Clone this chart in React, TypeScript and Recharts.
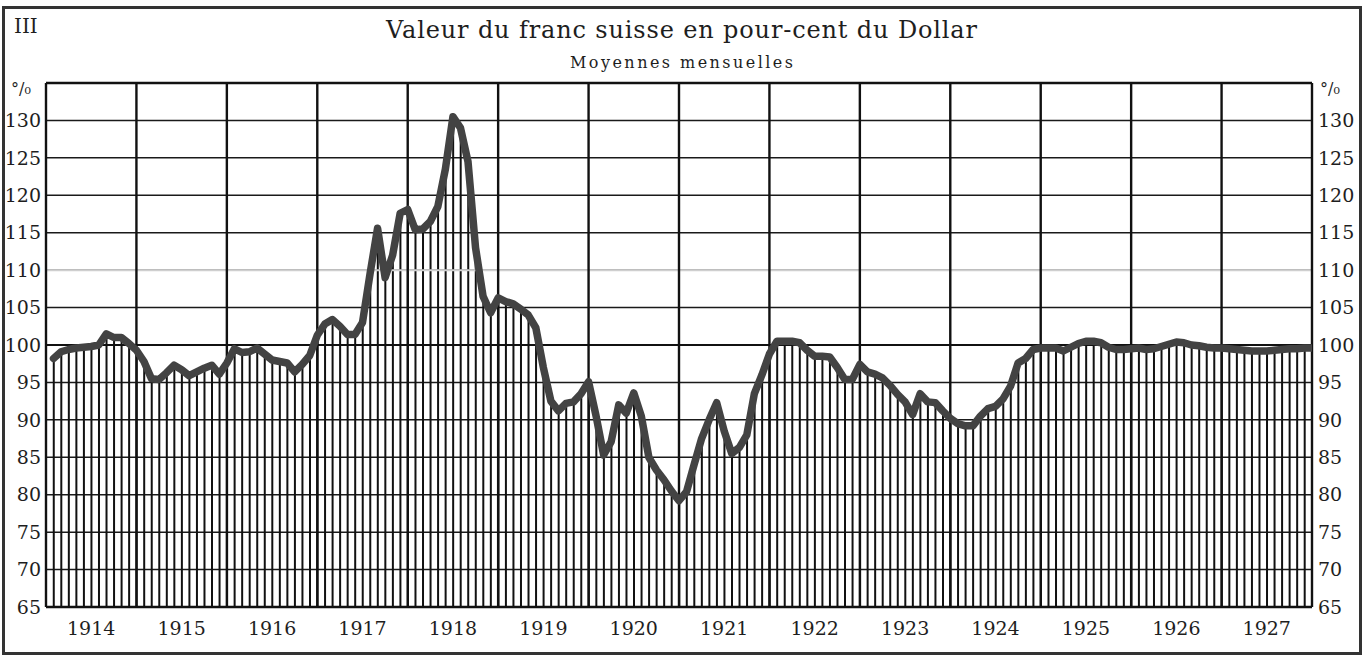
import React from 'react';
import { ComposedChart, Bar, Line, XAxis, YAxis, CartesianGrid, ReferenceLine } from 'recharts';

const years = [1914, 1915, 1916, 1917, 1918, 1919, 1920, 1921, 1922, 1923, 1924, 1925, 1926, 1927];

const v1914 = [98.2, 99.1, 99.4, 99.6, 99.7, 99.8, 100.0, 101.5, 101.0, 101.0, 100.2, 99.3];
const v1915 = [97.8, 95.5, 95.4, 96.3, 97.3, 96.7, 95.9, 96.4, 96.9, 97.3, 96.1, 97.6];
const v1916 = [99.5, 99.0, 99.1, 99.6, 98.8, 98.0, 97.8, 97.6, 96.4, 97.4, 98.6, 101.3];
const v1917 = [102.8, 103.4, 102.5, 101.4, 101.4, 103.0, 109.5, 115.6, 109.0, 112.0, 117.6, 118.1];
const v1918 = [115.4, 115.5, 116.5, 118.5, 123.5, 130.5, 129.0, 124.5, 113.0, 106.5, 104.3, 106.3];
const v1919 = [105.8, 105.5, 104.8, 104.0, 102.3, 97.0, 92.5, 91.2, 92.2, 92.4, 93.5, 95.1];
const v1920 = [90.5, 85.3, 87.1, 92.0, 90.9, 93.6, 90.5, 85.0, 83.3, 82.0, 80.5, 79.2];
const v1921 = [80.4, 84.0, 87.5, 90.0, 92.3, 88.5, 85.5, 86.3, 88.0, 93.5, 96.0, 98.8];
const v1922 = [100.5, 100.5, 100.5, 100.3, 99.3, 98.5, 98.5, 98.4, 97.0, 95.4, 95.4, 97.4];
const v1923 = [96.4, 96.1, 95.6, 94.6, 93.4, 92.4, 90.7, 93.5, 92.4, 92.3, 91.2, 90.2];
const v1924 = [89.5, 89.2, 89.2, 90.5, 91.5, 91.8, 92.8, 94.5, 97.6, 98.2, 99.4, 99.6];
const v1925 = [99.6, 99.6, 99.2, 99.7, 100.2, 100.5, 100.5, 100.3, 99.7, 99.4, 99.4, 99.5];
const v1926 = [99.6, 99.4, 99.5, 99.8, 100.1, 100.4, 100.3, 100.0, 99.9, 99.7, 99.6, 99.6];
const v1927 = [99.5, 99.4, 99.3, 99.2, 99.2, 99.2, 99.3, 99.4, 99.5, 99.5, 99.6, 99.6];

const valuesByYear = [v1914, v1915, v1916, v1917, v1918, v1919, v1920, v1921, v1922, v1923, v1924, v1925, v1926, v1927];

const yTicks = [65, 70, 75, 80, 85, 90, 95, 100, 105, 110, 115, 120, 125, 130];
const yearBoundaries = years.map((_, i) => i * 12).concat([years.length * 12]);
const yearCenters = years.map((_, i) => i * 12 + 6);

const title = 'Valeur du franc suisse en pour-cent du Dollar';
const subtitle = 'Moyennes mensuelles';
const plateNumber = 'III';
const unitLabel = '°/₀';

const data = valuesByYear.flat().map((v, i) => ({ m: i + 1, v }));

const FONT = '"DejaVu Serif", "Liberation Serif", serif';
const tickStyle = { fill: '#1e1e1e', fontSize: 19, fontFamily: FONT };

export default function App() {
  return (
    <div style={{ position: 'absolute', left: 0, top: 0, width: 1365, height: 660, background: '#ffffff' }}>
      <ComposedChart width={1365} height={660} data={data} margin={{ top: 83, right: 0, bottom: 0, left: 0 }}>
        <CartesianGrid yAxisId="l" vertical={false} stroke="#1a1a1a" strokeWidth={1.5} />
        <XAxis
          dataKey="m"
          type="number"
          domain={[0, 168]}
          ticks={yearCenters}
          interval={0}
          tickFormatter={(t: number) => String(years[Math.round((t - 6) / 12)])}
          height={53}
          axisLine={false}
          tickLine={false}
          tickSize={4}
          tickMargin={11}
          tick={tickStyle}
          allowDataOverflow
        />
        <YAxis
          yAxisId="l"
          domain={[65, 135]}
          ticks={yTicks}
          interval={0}
          width={46}
          axisLine={false}
          tickLine={false}
          tickSize={3}
          tickMargin={2}
          tick={tickStyle}
          allowDataOverflow
        />
        <YAxis
          yAxisId="r"
          orientation="right"
          domain={[65, 135]}
          ticks={yTicks}
          interval={0}
          width={53}
          axisLine={false}
          tickLine={false}
          tickSize={3}
          tickMargin={3}
          tick={tickStyle}
          allowDataOverflow
        />
        <ReferenceLine yAxisId="l" y={110} stroke="#cfcfcf" strokeWidth={2} />
        <Bar yAxisId="l" dataKey="v" fill="#111111" barSize={2} isAnimationActive={false} />
        <ReferenceLine yAxisId="l" y={100} stroke="#111111" strokeWidth={2.2} />
        {yearBoundaries.map((b) => (
          <ReferenceLine key={'yb' + b} yAxisId="l" x={b} stroke="#111111" strokeWidth={2.4} />
        ))}
        <ReferenceLine yAxisId="l" y={65} stroke="#111111" strokeWidth={2.4} />
        <ReferenceLine yAxisId="l" y={135} stroke="#111111" strokeWidth={2.4} />
        <Line
          yAxisId="l"
          type="linear"
          dataKey="v"
          stroke="#434343"
          strokeWidth={7.5}
          strokeLinejoin="round"
          strokeLinecap="round"
          dot={false}
          activeDot={false}
          isAnimationActive={false}
        />
      </ComposedChart>
      <svg
        width={1365}
        height={660}
        style={{ position: 'absolute', left: 0, top: 0, pointerEvents: 'none' }}
      >
        <rect x={3.5} y={7.5} width={1357} height={646} fill="none" stroke="#333333" strokeWidth={3} />
        <text x={14} y={33} fontFamily={FONT} fontSize={20} fill="#1e1e1e">{plateNumber}</text>
        <text x={386} y={38} fontFamily={FONT} fontSize={24} fill="#1e1e1e" textLength={591} lengthAdjust="spacing">{title}</text>
        <text x={570} y={68} fontFamily={FONT} fontSize={16} fill="#1e1e1e" textLength={223} lengthAdjust="spacing">{subtitle}</text>
        <text x={11} y={94} fontFamily={FONT} fontSize={16} fill="#1e1e1e">{unitLabel}</text>
        <text x={1320} y={94} fontFamily={FONT} fontSize={16} fill="#1e1e1e">{unitLabel}</text>
      </svg>
    </div>
  );
}
